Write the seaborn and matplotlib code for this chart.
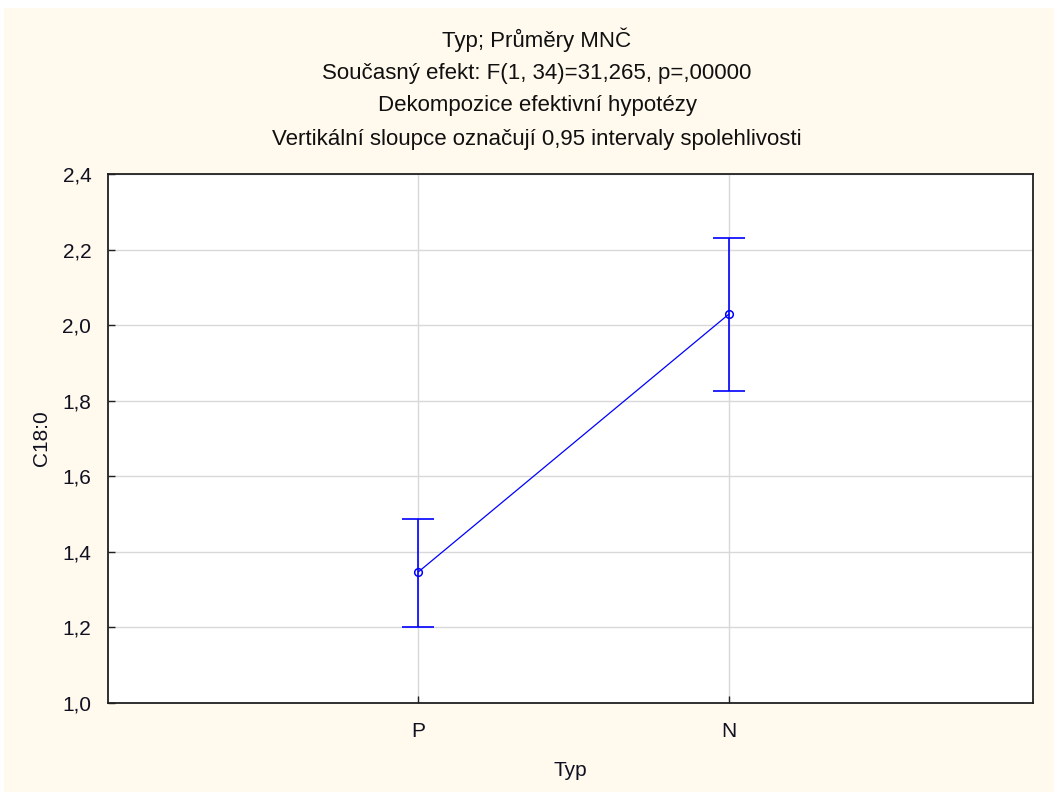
import matplotlib
matplotlib.use("Agg")
import matplotlib.pyplot as plt
import seaborn as sns
import pandas as pd
from matplotlib.patches import Rectangle

categories = ["P", "N"]
means = [1.347, 2.029]
ci_low = [1.201, 1.826]
ci_high = [1.488, 2.231]
yticks = [1.0, 1.2, 1.4, 1.6, 1.8, 2.0, 2.2, 2.4]
title_lines = [
    "Typ; Průměry MNČ",
    "Současný efekt: F(1, 34)=31,265, p=,00000",
    "Dekompozice efektivní hypotézy",
    "Vertikální sloupce označují 0,95 intervaly spolehlivosti",
]

sns.set_theme(style="white")
plt.rcParams["font.family"] = ["Liberation Sans", "DejaVu Sans"]

bg = "#FFF9EE"
W, H = 1054, 792
fig = plt.figure(figsize=(W / 100, H / 100), dpi=100, facecolor=bg)
# white strips along top and left edges
fig.patches.append(Rectangle((0, 1 - 8 / H), 1, 8 / H, transform=fig.transFigure,
                             facecolor="white", edgecolor="none", zorder=10))
fig.patches.append(Rectangle((0, 0), 4 / W, 1, transform=fig.transFigure,
                             facecolor="white", edgecolor="none", zorder=10))
ax = fig.add_axes([108 / W, 1 - 703 / H, (1033 - 108) / W, (703 - 174) / H])
ax.set_facecolor("white")

df = pd.DataFrame({"Typ": categories, "C18:0": means})
sns.pointplot(data=df, x="Typ", y="C18:0", errorbar=None, color="#0000FF",
              markers="o", linestyles="-", ax=ax,
              markerfacecolor="none", markeredgecolor="#0000FF",
              markersize=5.5, markeredgewidth=1.1, linewidth=0.9)
xpos = list(range(len(categories)))
yerr = [[m - lo for m, lo in zip(means, ci_low)], [hi - m for m, hi in zip(means, ci_high)]]
ax.errorbar(xpos, means, yerr=yerr, fmt="none", ecolor="#0000FF", elinewidth=1.2,
            capsize=11.5, capthick=1.2, zorder=3)

ax.set_xlim(-1.0, 1.98)
ax.set_ylim(1.0, 2.4)
ax.set_yticks(yticks)
ax.set_yticklabels([f"{v:.1f}".replace(".", ",") for v in yticks])
ax.set_xticks(xpos)
ax.set_xticklabels(categories)
ax.grid(True, color="#D8D8D8", linewidth=1.0, zorder=0)
ax.set_axisbelow(True)
for s in ax.spines.values():
    s.set_color("#202020")
    s.set_linewidth(1.3)
ax.tick_params(axis="both", direction="in", length=5, width=1, color="#202020",
               labelsize=15, labelcolor="#101020", left=True, bottom=True)
ax.tick_params(axis="y", pad=12)
ax.tick_params(axis="x", pad=14)
ax.set_xlabel("Typ", fontsize=15, color="#101020", labelpad=14)
ax.set_ylabel("C18:0", fontsize=15, color="#101020", labelpad=8)

ys = [40, 73, 105, 140]
for t, y in zip(title_lines, ys):
    fig.text(537 / W, 1 - y / H, t, ha="center", va="center", fontsize=16, color="#101010")

fig.savefig("out.png", dpi=100, facecolor=bg)
